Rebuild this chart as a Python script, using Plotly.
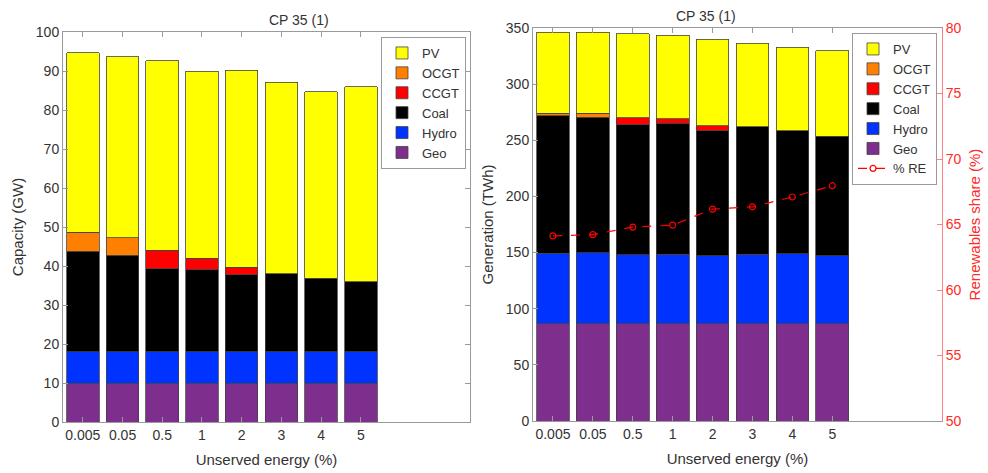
import plotly.graph_objects as go

# Unserved energy cases
categories = ["0.005", "0.05", "0.5", "1", "2", "3", "4", "5"]

# Installed capacity (GW), one value per case and technology
cap_geo = [10, 10, 10, 10, 10, 10, 10, 10]
cap_hydro = [8, 8, 8, 8, 8, 8, 8, 8]
cap_coal = [25.8, 24.7, 21.3, 21.1, 19.8, 20.0, 18.9, 18.0]
cap_ccgt = [0, 0, 4.7, 2.95, 1.9, 0, 0, 0]
cap_ocgt = [4.8, 4.6, 0, 0, 0, 0, 0, 0]
cap_pv = [46.1, 46.3, 48.6, 47.95, 50.5, 49.1, 47.8, 49.9]

# Annual generation (TWh)
gen_geo = [86.6, 86.6, 86.6, 86.6, 86.6, 86.6, 86.6, 86.6]
gen_hydro = [62.8, 63.1, 61.6, 61.9, 60.7, 61.9, 62.2, 60.7]
gen_coal = [122.6, 121.0, 115.8, 116.7, 111.3, 113.4, 109.5, 106.3]
gen_ccgt = [0, 0, 5.9, 4.1, 4.2, 0, 0, 0]
gen_ocgt = [2.1, 3.5, 0, 0, 0, 0, 0, 0]
gen_pv = [72.3, 72.2, 75.0, 74.2, 77.1, 74.7, 74.7, 76.2]

# Renewable share of generation (%)
re_share = [64.13, 64.23, 64.8, 64.95, 66.17, 66.35, 67.1, 67.96]

tech_names = ["Geo", "Hydro", "Coal", "CCGT", "OCGT", "PV"]
tech_colors = ["#7E2F8E", "#0033FF", "#000000", "#FF0000", "#FF8000", "#FFFF00"]
tech_rank = [6, 5, 4, 3, 2, 1]

cap_series = [cap_geo, cap_hydro, cap_coal, cap_ccgt, cap_ocgt, cap_pv]
gen_series = [gen_geo, gen_hydro, gen_coal, gen_ccgt, gen_ocgt, gen_pv]

x_pos = list(range(1, len(categories) + 1))

FONT = "Liberation Sans, Arial, Helvetica, sans-serif"
TXT = "#333333"
AX = "#9a9a9a"
RED = "#FF2A2A"
W, H = 988, 473

fig = go.Figure()

for name, color, rank, vals in zip(tech_names, tech_colors, tech_rank, cap_series):
    fig.add_trace(go.Bar(
        x=x_pos, y=vals, name=name, marker_color=color,
        marker_line=dict(color="#444444", width=0.8),
        xaxis="x", yaxis="y", legend="legend", legendrank=rank,
    ))

for name, color, rank, vals in zip(tech_names, tech_colors, tech_rank, gen_series):
    fig.add_trace(go.Bar(
        x=x_pos, y=vals, name=name, marker_color=color,
        marker_line=dict(color="#444444", width=0.8),
        xaxis="x2", yaxis="y2", legend="legend2", legendrank=rank,
    ))

fig.add_trace(go.Scatter(
    x=x_pos, y=re_share, name="% RE", mode="lines+markers",
    line=dict(color="#FF0000", width=1.2, dash="dash"),
    marker=dict(symbol="circle-open", size=6, color="#FF0000", line=dict(width=1.2)),
    xaxis="x2", yaxis="y3", legend="legend2", legendrank=7,
))


def px_x(v):
    return v / W


def px_y(v):
    return 1 - v / H


xaxis_common = dict(
    tickvals=x_pos, ticktext=categories, range=[0.5, 10.75],
    ticks="inside", ticklen=5, tickcolor=AX, showline=True, linecolor=AX,
    linewidth=1, mirror="ticks", showgrid=False, zeroline=False, automargin=False,
    tickfont=dict(family=FONT, size=14, color=TXT),
    title=dict(text="Unserved energy (%)", font=dict(family=FONT, size=15, color=TXT), standoff=12),
)

legend_common = dict(
    xanchor="right", yanchor="top", traceorder="normal",
    bordercolor=AX, borderwidth=1, bgcolor="white",
    font=dict(family=FONT, size=13, color=TXT), tracegroupgap=0,
    itemwidth=30,
)

fig.update_layout(
    width=W, height=H,
    margin=dict(l=0, r=0, t=0, b=0, autoexpand=False),
    paper_bgcolor="white", plot_bgcolor="white",
    barmode="stack", bargap=0.18,
    font=dict(family=FONT, color=TXT),
    xaxis=dict(domain=[px_x(63), px_x(470)], anchor="y", **xaxis_common),
    yaxis=dict(
        domain=[px_y(422), px_y(32)], anchor="x", range=[0, 100], dtick=10,
        ticks="inside", ticklen=5, tickcolor=AX, showline=True, linecolor=AX,
        linewidth=1, mirror="ticks", showgrid=False, zeroline=False, automargin=False,
        tickfont=dict(family=FONT, size=14, color=TXT),
        title=dict(text="Capacity (GW)", font=dict(family=FONT, size=15, color=TXT), standoff=8),
    ),
    xaxis2=dict(domain=[px_x(533), px_x(942)], anchor="y2", **xaxis_common),
    yaxis2=dict(
        domain=[px_y(421), px_y(28)], anchor="x2", range=[0, 350], dtick=50,
        ticks="inside", ticklen=5, tickcolor=AX, showline=True, linecolor=AX,
        linewidth=1, mirror=False, showgrid=False, zeroline=False, automargin=False,
        tickfont=dict(family=FONT, size=14, color=TXT),
        title=dict(text="Generation (TWh)", font=dict(family=FONT, size=15, color=TXT), standoff=8),
    ),
    yaxis3=dict(
        overlaying="y2", side="right", anchor="x2", range=[50, 80], dtick=5,
        ticks="inside", ticklen=5, tickcolor="#FF8080", showline=True, linecolor="#FF8080",
        linewidth=1, showgrid=False, zeroline=False, automargin=False,
        tickfont=dict(family=FONT, size=14, color=RED),
        title=dict(text="Renewables share (%)", font=dict(family=FONT, size=15, color=RED), standoff=8),
    ),
    legend=dict(x=px_x(466), y=px_y(37), **legend_common),
    legend2=dict(x=px_x(937), y=px_y(33), **legend_common),
    annotations=[
        dict(text="CP 35 (1)", x=(px_x(63) + px_x(470)) / 2, y=px_y(20),
             xref="paper", yref="paper", showarrow=False, yanchor="middle",
             font=dict(family=FONT, size=14, color=TXT)),
        dict(text="CP 35 (1)", x=(px_x(533) + px_x(942)) / 2, y=px_y(16),
             xref="paper", yref="paper", showarrow=False, yanchor="middle",
             font=dict(family=FONT, size=14, color=TXT)),
    ],
)

fig.write_html("out.html")
